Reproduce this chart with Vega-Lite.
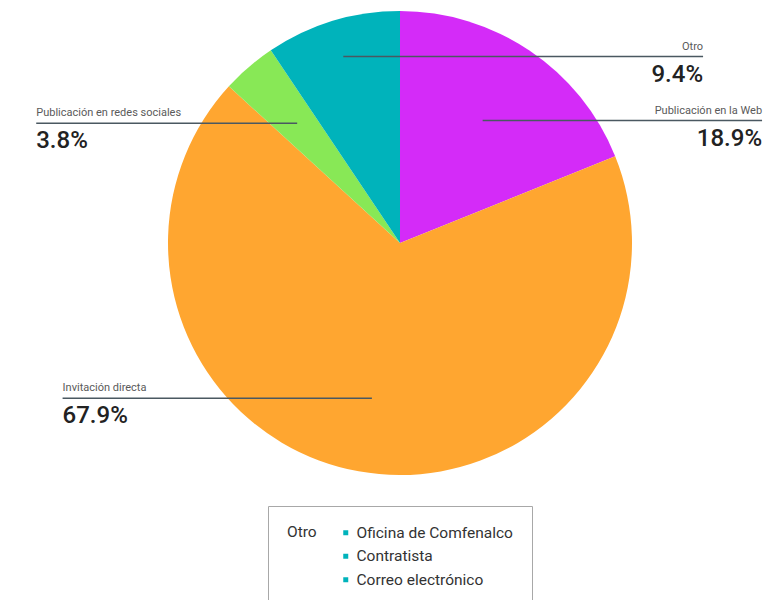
{
  "$schema": "https://vega.github.io/schema/vega-lite/v6.json",
  "width": 746,
  "height": 486,
  "autosize": {"type": "none"},
  "padding": {"left": 27, "top": 0, "right": 0, "bottom": 114},
  "background": "white",
  "config": {"view": {"stroke": null}, "font": "Roboto"},
  "data": {
    "values": [
      {"categoria": "Publicación en la Web", "porcentaje": 18.9, "orden": 1},
      {"categoria": "Invitación directa", "porcentaje": 67.9, "orden": 2},
      {"categoria": "Publicación en redes sociales", "porcentaje": 3.8, "orden": 3},
      {"categoria": "Otro", "porcentaje": 9.4, "orden": 4}
    ]
  },
  "layer": [
    {
      "mark": {"type": "arc", "outerRadius": 232},
      "encoding": {
        "theta": {"field": "porcentaje", "type": "quantitative", "stack": true},
        "order": {"field": "orden", "type": "quantitative"},
        "color": {
          "field": "categoria",
          "type": "nominal",
          "scale": {
            "domain": ["Publicación en la Web", "Invitación directa", "Publicación en redes sociales", "Otro"],
            "range": ["#D42BF8", "#FFA630", "#88E856", "#00B3BB"]
          },
          "legend": null
        }
      }
    },
    {
      "transform": [
        {"window": [{"op": "sum", "field": "porcentaje", "as": "acum"}], "sort": [{"field": "orden"}], "frame": [null, 0]},
        {"calculate": "(datum.acum - datum.porcentaje / 2) / 100 * 2 * PI", "as": "ang"},
        {"calculate": "sin(datum.ang + 0.4) >= 0 ? 1 : -1", "as": "lado"},
        {"calculate": "(datum.lado > 0 ? 0.84 : 0.68) * 232", "as": "rl"},
        {"calculate": "datum.rl * cos(datum.ang)", "as": "ay0"},
        {"window": [{"op": "lag", "field": "ay0", "as": "ayPrev"}], "groupby": ["lado"], "sort": [{"field": "ay0", "order": "descending"}]},
        {"calculate": "datum.ayPrev == null ? datum.ay0 : min(datum.ay0, datum.ayPrev - 64)", "as": "ay"},
        {"calculate": "datum.ay * tan(datum.ang)", "as": "ax"},
        {"calculate": "datum.lado * (sqrt(max(0, 232 * 232 - datum.ay * datum.ay)) + 165)", "as": "bx"},
        {"calculate": "format(datum.porcentaje, '.1f') + '%'", "as": "etiqueta"}
      ],
      "layer": [
        {
          "mark": {"type": "rule", "stroke": "#4a5861", "strokeWidth": 1.5},
          "encoding": {
            "x": {"field": "ax", "type": "quantitative", "scale": {"domain": [-373, 373], "nice": false, "zero": false}, "axis": null},
            "x2": {"field": "bx"},
            "y": {"field": "ay", "type": "quantitative", "scale": {"domain": [-243, 243], "nice": false, "zero": false}, "axis": null}
          }
        },
        {
          "transform": [{"filter": "datum.lado > 0"}],
          "mark": {"type": "text", "align": "right", "baseline": "bottom", "dy": -5, "fontSize": 11, "fill": "#5a5a5a"},
          "encoding": {
            "x": {"field": "bx", "type": "quantitative", "axis": null},
            "y": {"field": "ay", "type": "quantitative", "axis": null},
            "text": {"field": "categoria"}
          }
        },
        {
          "transform": [{"filter": "datum.lado < 0"}],
          "mark": {"type": "text", "align": "left", "baseline": "bottom", "dy": -5, "fontSize": 11, "fill": "#5a5a5a"},
          "encoding": {
            "x": {"field": "bx", "type": "quantitative", "axis": null},
            "y": {"field": "ay", "type": "quantitative", "axis": null},
            "text": {"field": "categoria"}
          }
        },
        {
          "transform": [{"filter": "datum.lado > 0"}],
          "mark": {"type": "text", "align": "right", "baseline": "top", "dy": 6, "fontSize": 24, "fontWeight": 500, "fill": "#222222"},
          "encoding": {
            "x": {"field": "bx", "type": "quantitative", "axis": null},
            "y": {"field": "ay", "type": "quantitative", "axis": null},
            "text": {"field": "etiqueta"}
          }
        },
        {
          "transform": [{"filter": "datum.lado < 0"}],
          "mark": {"type": "text", "align": "left", "baseline": "top", "dy": 6, "fontSize": 24, "fontWeight": 500, "fill": "#222222"},
          "encoding": {
            "x": {"field": "bx", "type": "quantitative", "axis": null},
            "y": {"field": "ay", "type": "quantitative", "axis": null},
            "text": {"field": "etiqueta"}
          }
        }
      ]
    },
    {
      "data": {"values": [{"item": "Oficina de Comfenalco"}, {"item": "Contratista"}, {"item": "Correo electrónico"}]},
      "mark": {"type": "square", "size": 0},
      "encoding": {
        "fill": {
          "field": "item",
          "type": "nominal",
          "scale": {"domain": ["Oficina de Comfenalco", "Contratista", "Correo electrónico"], "range": ["#00B3BB", "#00B3BB", "#00B3BB"]},
          "legend": {
            "title": "Otro",
            "orient": "none",
            "legendX": 241,
            "legendY": 506,
            "direction": "vertical",
            "titleOrient": "left",
            "titleAnchor": "start",
            "titleFontSize": 15.5,
            "titleFontWeight": "normal",
            "titleColor": "#333333",
            "titlePadding": 21,
            "labelFontSize": 15.5,
            "labelColor": "#333333",
            "labelOffset": 3,
            "labelLimit": 400,
            "symbolType": "square",
            "symbolSize": 25,
            "symbolOpacity": 1,
            "symbolStrokeWidth": 0,
            "rowPadding": 6.5,
            "padding": 19,
            "strokeColor": "#a8a8a8",
            "fillColor": "white"
          }
        }
      }
    }
  ]
}
